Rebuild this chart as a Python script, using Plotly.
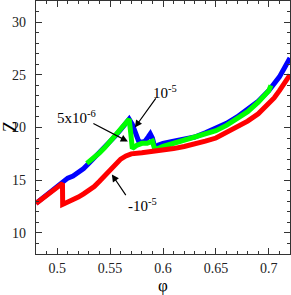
import plotly.graph_objects as go

# ---- data ----
phi_blue = [0.48, 0.485, 0.49, 0.495, 0.50, 0.505, 0.51, 0.515, 0.52, 0.525, 0.53, 0.535,
            0.54, 0.545, 0.55, 0.555, 0.56, 0.565, 0.568, 0.571, 0.574, 0.577, 0.58, 0.583,
            0.586, 0.588, 0.590, 0.592, 0.595, 0.60, 0.61, 0.62, 0.63, 0.64, 0.65, 0.66,
            0.67, 0.68, 0.69, 0.70, 0.705, 0.71, 0.715, 0.72]
z_blue = [12.8, 13.2, 13.6, 14.0, 14.4, 14.8, 15.2, 15.4, 15.7, 16.1, 16.6, 17.1,
          17.6, 18.1, 18.7, 19.2, 19.8, 20.4, 20.8, 20.3, 19.4, 18.7, 18.6, 18.7,
          19.1, 19.4, 19.0, 18.2, 18.3, 18.5, 18.7, 18.9, 19.1, 19.5, 19.9, 20.4,
          21.0, 21.7, 22.5, 23.5, 24.1, 24.8, 25.7, 26.6]

phi_green = [0.528, 0.535, 0.54, 0.545, 0.55, 0.555, 0.56, 0.565, 0.568, 0.5695, 0.571,
             0.575, 0.58, 0.585, 0.59, 0.592, 0.595, 0.60, 0.61, 0.62, 0.63, 0.64, 0.65,
             0.66, 0.67, 0.68, 0.69, 0.70, 0.702]
z_green = [16.6, 17.1, 17.6, 18.1, 18.7, 19.2, 19.8, 20.4, 20.8, 19.5, 18.0,
           18.3, 18.5, 18.5, 18.7, 18.0, 18.0, 18.2, 18.5, 18.7, 19.0, 19.3, 19.7,
           20.2, 20.8, 21.5, 22.4, 23.5, 24.0]

phi_red = [0.48, 0.485, 0.49, 0.495, 0.50, 0.505, 0.5052, 0.51, 0.515, 0.52, 0.525, 0.53,
           0.535, 0.54, 0.545, 0.55, 0.555, 0.56, 0.565, 0.57, 0.58, 0.59, 0.60, 0.61,
           0.62, 0.63, 0.64, 0.65, 0.66, 0.67, 0.68, 0.69, 0.70, 0.705, 0.71, 0.715, 0.72]
z_red = [12.8, 13.2, 13.6, 14.0, 14.4, 14.7, 12.7, 12.9, 13.2, 13.4, 13.7, 14.0,
         14.4, 14.9, 15.4, 15.9, 16.5, 17.0, 17.3, 17.5, 17.6, 17.7, 17.9, 18.0,
         18.2, 18.4, 18.7, 19.0, 19.5, 20.0, 20.6, 21.3, 22.2, 22.8, 23.5, 24.2, 25.0]

x_ticks = [0.5, 0.55, 0.6, 0.65, 0.7]
x_ticklabels = ["0.5", "0.55", "0.6", "0.65", "0.7"]
y_ticks = [10, 15, 20, 25, 30]

labels = ["10<sup>-5</sup>", "5x10<sup>-6</sup>", "-10<sup>-5</sup>"]
label_text_xy = [(0.6015, 23.35), (0.518, 20.95), (0.5805, 12.65)]
arrow_head = [(0.5734, 20.0), (0.5668, 18.67), (0.5517, 15.55)]
arrow_tail = [(0.5942, 22.9), (0.5328, 20.45), (0.5658, 13.45)]

FONT = "Liberation Serif, Times New Roman, DejaVu Serif, serif"

fig = go.Figure()
fig.add_trace(go.Scatter(x=phi_blue, y=z_blue, mode="lines",
                         line=dict(color="#0000FF", width=5), showlegend=False))
fig.add_trace(go.Scatter(x=phi_green, y=z_green, mode="lines",
                         line=dict(color="#00FF00", width=5), showlegend=False))
fig.add_trace(go.Scatter(x=phi_red, y=z_red, mode="lines",
                         line=dict(color="#FF0000", width=5), showlegend=False))

annotations = []
for (hx, hy), (tx, ty) in zip(arrow_head, arrow_tail):
    annotations.append(dict(x=hx, y=hy, ax=tx, ay=ty, xref="x", yref="y",
                            axref="x", ayref="y", text="", showarrow=True,
                            arrowhead=2, arrowsize=1.2, arrowwidth=1.2,
                            arrowcolor="black"))
for txt, (lx, ly) in zip(labels, label_text_xy):
    annotations.append(dict(x=lx, y=ly, xref="x", yref="y", text=txt,
                            xanchor="center", yanchor="middle",
                            showarrow=False, font=dict(family=FONT, size=15, color="black")))
annotations.append(dict(x=-0.102, y=0.502, xref="paper", yref="paper", text="Z",
                        xanchor="center", yanchor="middle",
                        textangle=-90, showarrow=False,
                        font=dict(family=FONT, size=18, color="black")))
annotations.append(dict(x=0.5, y=-0.125, xref="paper", yref="paper", text="φ",
                        xanchor="center", yanchor="middle",
                        showarrow=False, font=dict(family=FONT, size=17, color="black")))

axis_common = dict(showgrid=False, zeroline=False, showline=True, linecolor="#333333",
                   linewidth=1.2, mirror="ticks", ticks="inside", ticklen=6,
                   tickwidth=1, tickcolor="#333333",
                   tickfont=dict(family=FONT, size=14, color="#222222"))

fig.update_xaxes(range=[0.48, 0.72], tickvals=x_ticks, ticktext=x_ticklabels,
                 minor=dict(dtick=0.01, tick0=0.5, ticks="inside", ticklen=3,
                            tickcolor="#333333"),
                 ticklabelstandoff=1, **axis_common)
fig.update_yaxes(range=[8, 32], tickvals=y_ticks,
                 minor=dict(dtick=1, tick0=10, ticks="inside", ticklen=3,
                            tickcolor="#333333"),
                 ticklabelstandoff=6, **axis_common)

fig.update_layout(width=291, height=295, margin=dict(l=36, r=1, t=1, b=41),
                  paper_bgcolor="white", plot_bgcolor="white",
                  annotations=annotations)

fig.write_html("out.html", config={"displayModeBar": False},
               post_script="document.body.style.margin='0';document.body.style.overflow='hidden';")
